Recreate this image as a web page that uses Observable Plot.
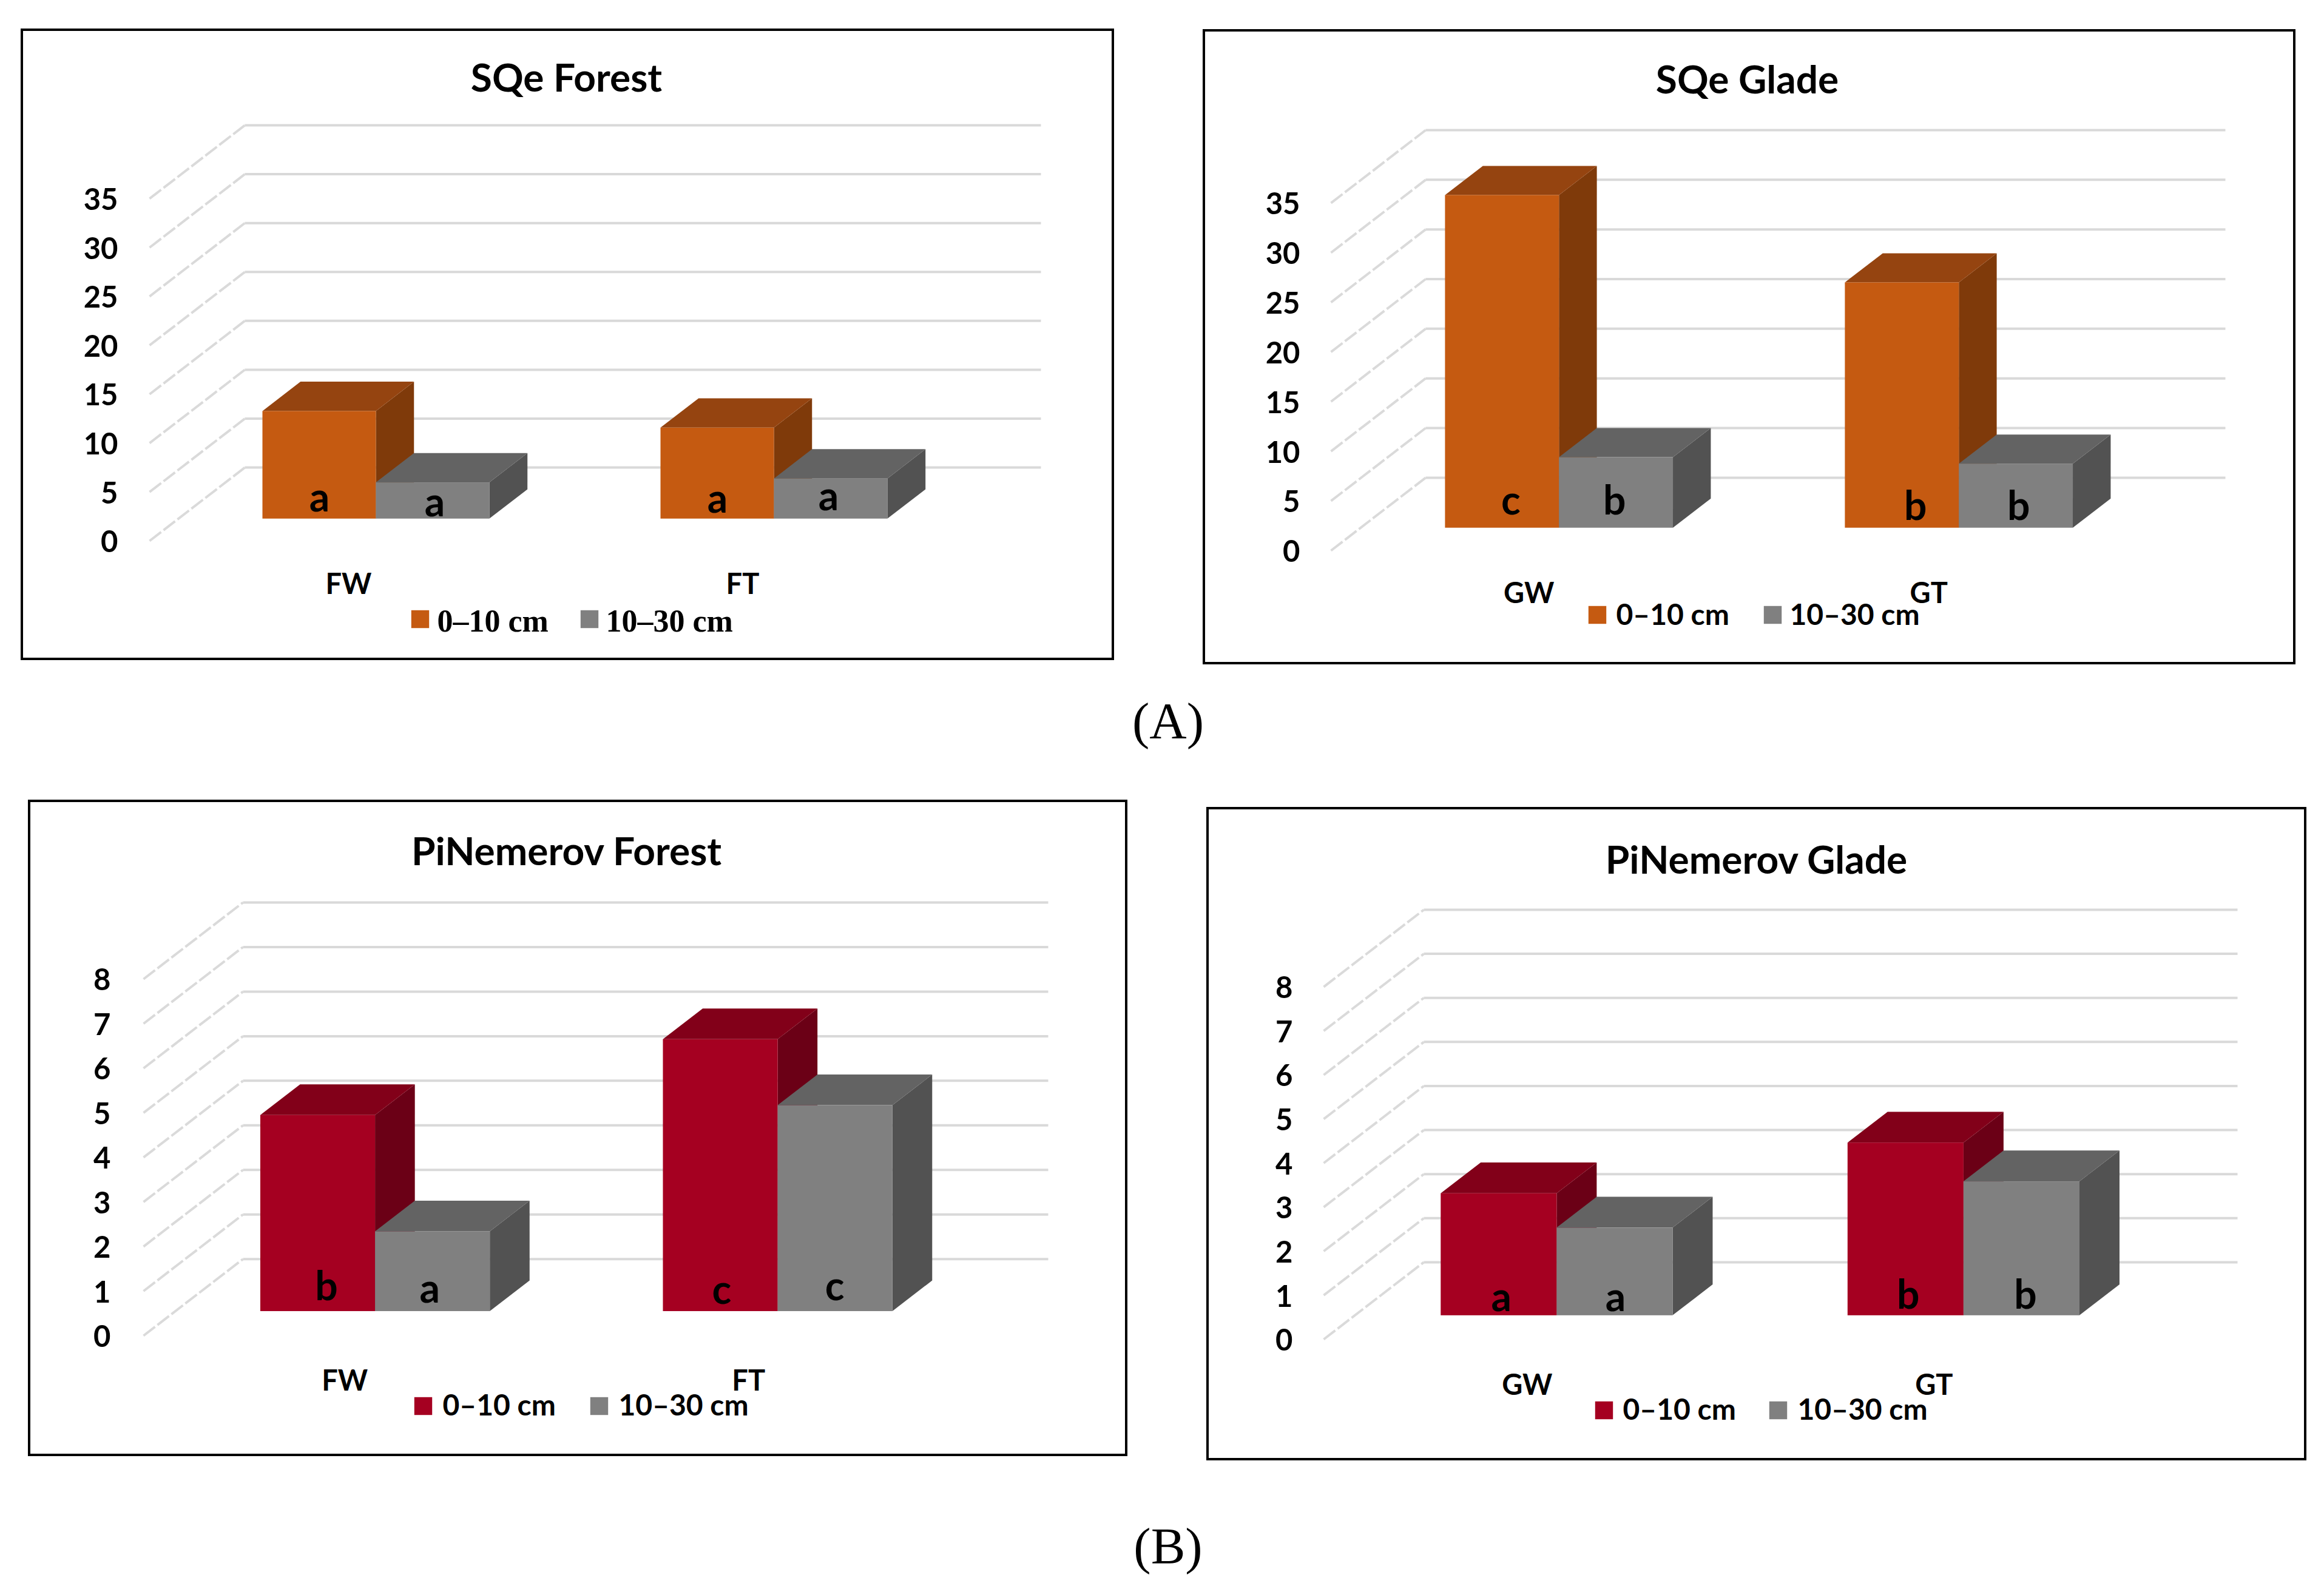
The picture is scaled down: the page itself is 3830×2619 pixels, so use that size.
<!DOCTYPE html>
<html>
<head>
<meta charset="utf-8">
<script src="https://cdn.jsdelivr.net/npm/d3@7"></script>
<script src="https://cdn.jsdelivr.net/npm/@observablehq/plot@0.6"></script>
<style>
html,body{margin:0;padding:0;background:#fff}
#page{position:relative;width:3830px;height:2619px;background:#fff;overflow:hidden}
.cap{position:absolute;transform:translate(-50%,-50%);font-family:"Liberation Serif",serif;font-size:85px;color:#000}
</style>
</head>
<body>
<div id="page"></div>
<script>
const seriesNames = ["0–10 cm", "10–30 cm"];

const sqeForestTitle = "SQe Forest";
const sqeForestCats = ["FW", "FT"];
const sqeForest = [[11.0, 9.3], [3.7, 4.1]];
const sqeForestLetters = [["a", "a"], ["a", "a"]];
const sqeTicks = [0, 5, 10, 15, 20, 25, 30, 35];

const sqeGladeTitle = "SQe Glade";
const sqeGladeCats = ["GW", "GT"];
const sqeGlade = [[33.5, 24.7], [7.1, 6.45]];
const sqeGladeLetters = [["c", "b"], ["b", "b"]];

const piForestTitle = "PiNemerov Forest";
const piForestCats = ["FW", "FT"];
const piForest = [[4.40, 6.10], [1.79, 4.62]];
const piForestLetters = [["b", "c"], ["a", "c"]];
const piTicks = [0, 1, 2, 3, 4, 5, 6, 7, 8];

const piGladeTitle = "PiNemerov Glade";
const piGladeCats = ["GW", "GT"];
const piGlade = [[2.77, 3.92], [1.99, 3.04]];
const piGladeLetters = [["a", "b"], ["a", "b"]];

const orange = ["#c55a11", "#954410", "#7f3a0a"];
const red = ["#a50021", "#820019", "#6b0016"];
const gray = ["#808080", "#636363", "#525252"];

const sans = "Lato, Carlito, sans-serif";
const serif = "'Liberation Serif', serif";

const panels = [
  {title: sqeForestTitle, cats: sqeForestCats, vals: sqeForest, letters: sqeForestLetters, ticks: sqeTicks, pal: orange,
   frame: [36, 49, 1834, 1086], x0: 246, y0: 891, xb: 403, xr: 1715, yTop: 206, d0: 0.30,
   titleAt: [933, 130], letterDx: [[0, 0], [3, -4]], letterDy: [[-33, -31], [-25, -35]], pad: 52, catPad: 54, catTicks: [0.5, 1.49],
   legendFont: serif, legendSize: 52, sq: [[692, 1020], [971, 1020]], lab: [[720, 1024], [998, 1024]]},
  {title: sqeGladeTitle, cats: sqeGladeCats, vals: sqeGlade, letters: sqeGladeLetters, ticks: sqeTicks, pal: orange,
   frame: [1984, 50, 3781, 1093], x0: 2193, y0: 907, xb: 2349, xr: 3667, yTop: 214, d0: 0.31,
   titleAt: [2879, 133], letterDx: [[14, 22], [-3, 4]], letterDy: [[-43, -34], [-43, -34]], pad: 51, catPad: 53, catTicks: [0.495, 1.495],
   legendFont: sans, legendSize: 48, sq: [[2632, 1013], [2921, 1013]], lab: [[2663, 1014], [2949, 1014]]},
  {title: piForestTitle, cats: piForestCats, vals: piForest, letters: piForestLetters, ticks: piTicks, pal: red,
   frame: [48, 1320, 1856, 2398], x0: 236, y0: 2201, xb: 400, xr: 1727, yTop: 1487, d0: 0.317,
   titleAt: [933, 1405], letterDx: [[14, 2], [-5, -1]], letterDy: [[-40, -34], [-36, -40]], pad: 54, catPad: 57, catTicks: [0.5, 1.503],
   legendFont: sans, legendSize: 48, sq: [[697, 2317], [987, 2317]], lab: [[729, 2317], [1019, 2317]]},
  {title: piGladeTitle, cats: piGladeCats, vals: piGlade, letters: piGladeLetters, ticks: piTicks, pal: red,
   frame: [1990, 1332, 3799, 2405], x0: 2181, y0: 2207, xb: 2346, xr: 3687, yTop: 1499, d0: 0.308,
   titleAt: [2894, 1419], letterDx: [[4, 4], [1, 6]], letterDy: [[-28, -32], [-28, -32]], pad: 51, catPad: 58, catTicks: [0.5, 1.5],
   legendFont: sans, legendSize: 48, sq: [[2643, 2324], [2930, 2324]], lab: [[2674, 2324], [2962, 2324]]}
];

const page = document.getElementById("page");

function drawPanel(p) {
  const [l, t, r, b] = p.frame;
  const maxV = p.ticks[p.ticks.length - 1];
  const catPx = (p.xr - p.xb) / 2;
  const depthPxX = p.xb - p.x0;
  const dX = depthPxX / catPx;
  // the back wall's zero line sits this far above the front axis zero
  const depthPxY = depthPxX * 0.77;
  const unitPx = ((p.y0 - depthPxY) - p.yTop) / maxV;
  const dV = depthPxY / unitPx;
  const barW = 0.285, gap = 0.2125, barD = 0.4;
  const at = (px, py) => ({frameAnchor: "top-left", dx: px - p.x0, dy: py - p.yTop});

  const marks = [];
  // grid: left wall and back wall lines
  marks.push(Plot.link(p.ticks, {x1: 0, y1: d => d, x2: dX, y2: d => d + dV, stroke: "#dadada", strokeWidth: 4, strokeDasharray: "24 5"}));
  marks.push(Plot.link(p.ticks, {x1: dX, y1: d => d + dV, x2: 2 + dX, y2: d => d + dV, stroke: "#d9d9d9", strokeWidth: 4}));

  // bars, oblique projection expressed in data units
  const fx = p.d0 * dX, fy = p.d0 * dV, bx = barD * dX, by = barD * dV;
  p.vals.forEach((vals, s) => {
    const pal = s === 0 ? p.pal : gray;
    const front = vals.map((v, c) => {
      const x1 = c + gap + s * barW + fx;
      return {x1, x2: x1 + barW, y1: fy, y2: v + fy, c};
    });
    const side = front.flatMap(d => [
      {id: d.c, x: d.x2, y1: d.y1, y2: d.y2},
      {id: d.c, x: d.x2 + bx, y1: d.y1 + by, y2: d.y2 + by}
    ]);
    const top = front.flatMap(d => [
      {id: d.c, y: d.y2, x1: d.x1, x2: d.x2},
      {id: d.c, y: d.y2 + by, x1: d.x1 + bx, x2: d.x2 + bx}
    ]);
    marks.push(Plot.area(side, {x1: "x", y1: "y1", y2: "y2", z: "id", fill: pal[2]}));
    marks.push(Plot.area(top, {y1: "y", x1: "x1", x2: "x2", z: "id", fill: pal[1]}));
    marks.push(Plot.rect(front, {x1: "x1", x2: "x2", y1: "y1", y2: "y2", fill: pal[0]}));
    marks.push(Plot.text(front, {
      x: d => (d.x1 + d.x2) / 2, y: "y1", text: d => p.letters[s][d.c],
      fill: "#000", fontSize: 66, fontWeight: "bold", lineAnchor: "middle", textAnchor: "middle",
      render(index, scales, values, dims, ctx, next) {
        const g = next(index, scales, values, dims, ctx);
        g.querySelectorAll("text").forEach((el, i) => {
          el.setAttribute("transform", `translate(${values.x[index[i]] + p.letterDx[s][index[i]]},${values.y[index[i]] + p.letterDy[s][index[i]]})`);
        });
        return g;
      }
    }));
  });

  // axes
  marks.push(Plot.axisY({ticks: p.ticks, anchor: "left", tickSize: 0, tickPadding: p.pad, dy: 3, fontSize: 49, tickFormat: d => String(d), label: null}));
  marks.push(Plot.axisX({ticks: p.catTicks, anchor: "bottom", tickSize: 0, tickPadding: p.catPad, fontSize: 47, tickFormat: d => p.cats[Math.floor(d)], label: null}));

  // title
  marks.push(Plot.text([p.title], {text: d => d, ...at(...p.titleAt), textAnchor: "middle", lineAnchor: "middle", fontSize: 64, fontWeight: "bold", fill: "#000"}));

  // legend
  seriesNames.forEach((name, s) => {
    marks.push(Plot.dot([name], {...at(...p.sq[s]), symbol: "square", r: 16.6, fill: s === 0 ? p.pal[0] : gray[0], stroke: "none"}));
    marks.push(Plot.text([name], {text: d => d, ...at(...p.lab[s]), textAnchor: "start", lineAnchor: "middle", fontSize: p.legendSize, fontFamily: p.legendFont, fontWeight: "bold", fill: "#000"}));
  });

  const svg = Plot.plot({
    width: r - l, height: b - t,
    marginLeft: p.x0 - l, marginRight: r - p.xr, marginTop: p.yTop - t, marginBottom: b - p.y0,
    x: {domain: [0, 2 + dX], axis: null},
    y: {domain: [0, maxV + dV], axis: null},
    style: {position: "absolute", left: l + "px", top: t + "px", background: "#fff", color: "#000",
      fontFamily: sans, fontWeight: "bold", outline: "4px solid #000", outlineOffset: "-2px", overflow: "visible"},
    marks
  });
  page.appendChild(svg);
}
panels.forEach(drawPanel);

const captions = [["(A)", 1925, 1188], ["(B)", 1925, 2548]];
captions.forEach(([txt, x, y]) => {
  const el = document.createElement("div");
  el.className = "cap"; el.textContent = txt;
  el.style.left = x + "px"; el.style.top = y + "px";
  page.appendChild(el);
});
</script>
</body>
</html>
